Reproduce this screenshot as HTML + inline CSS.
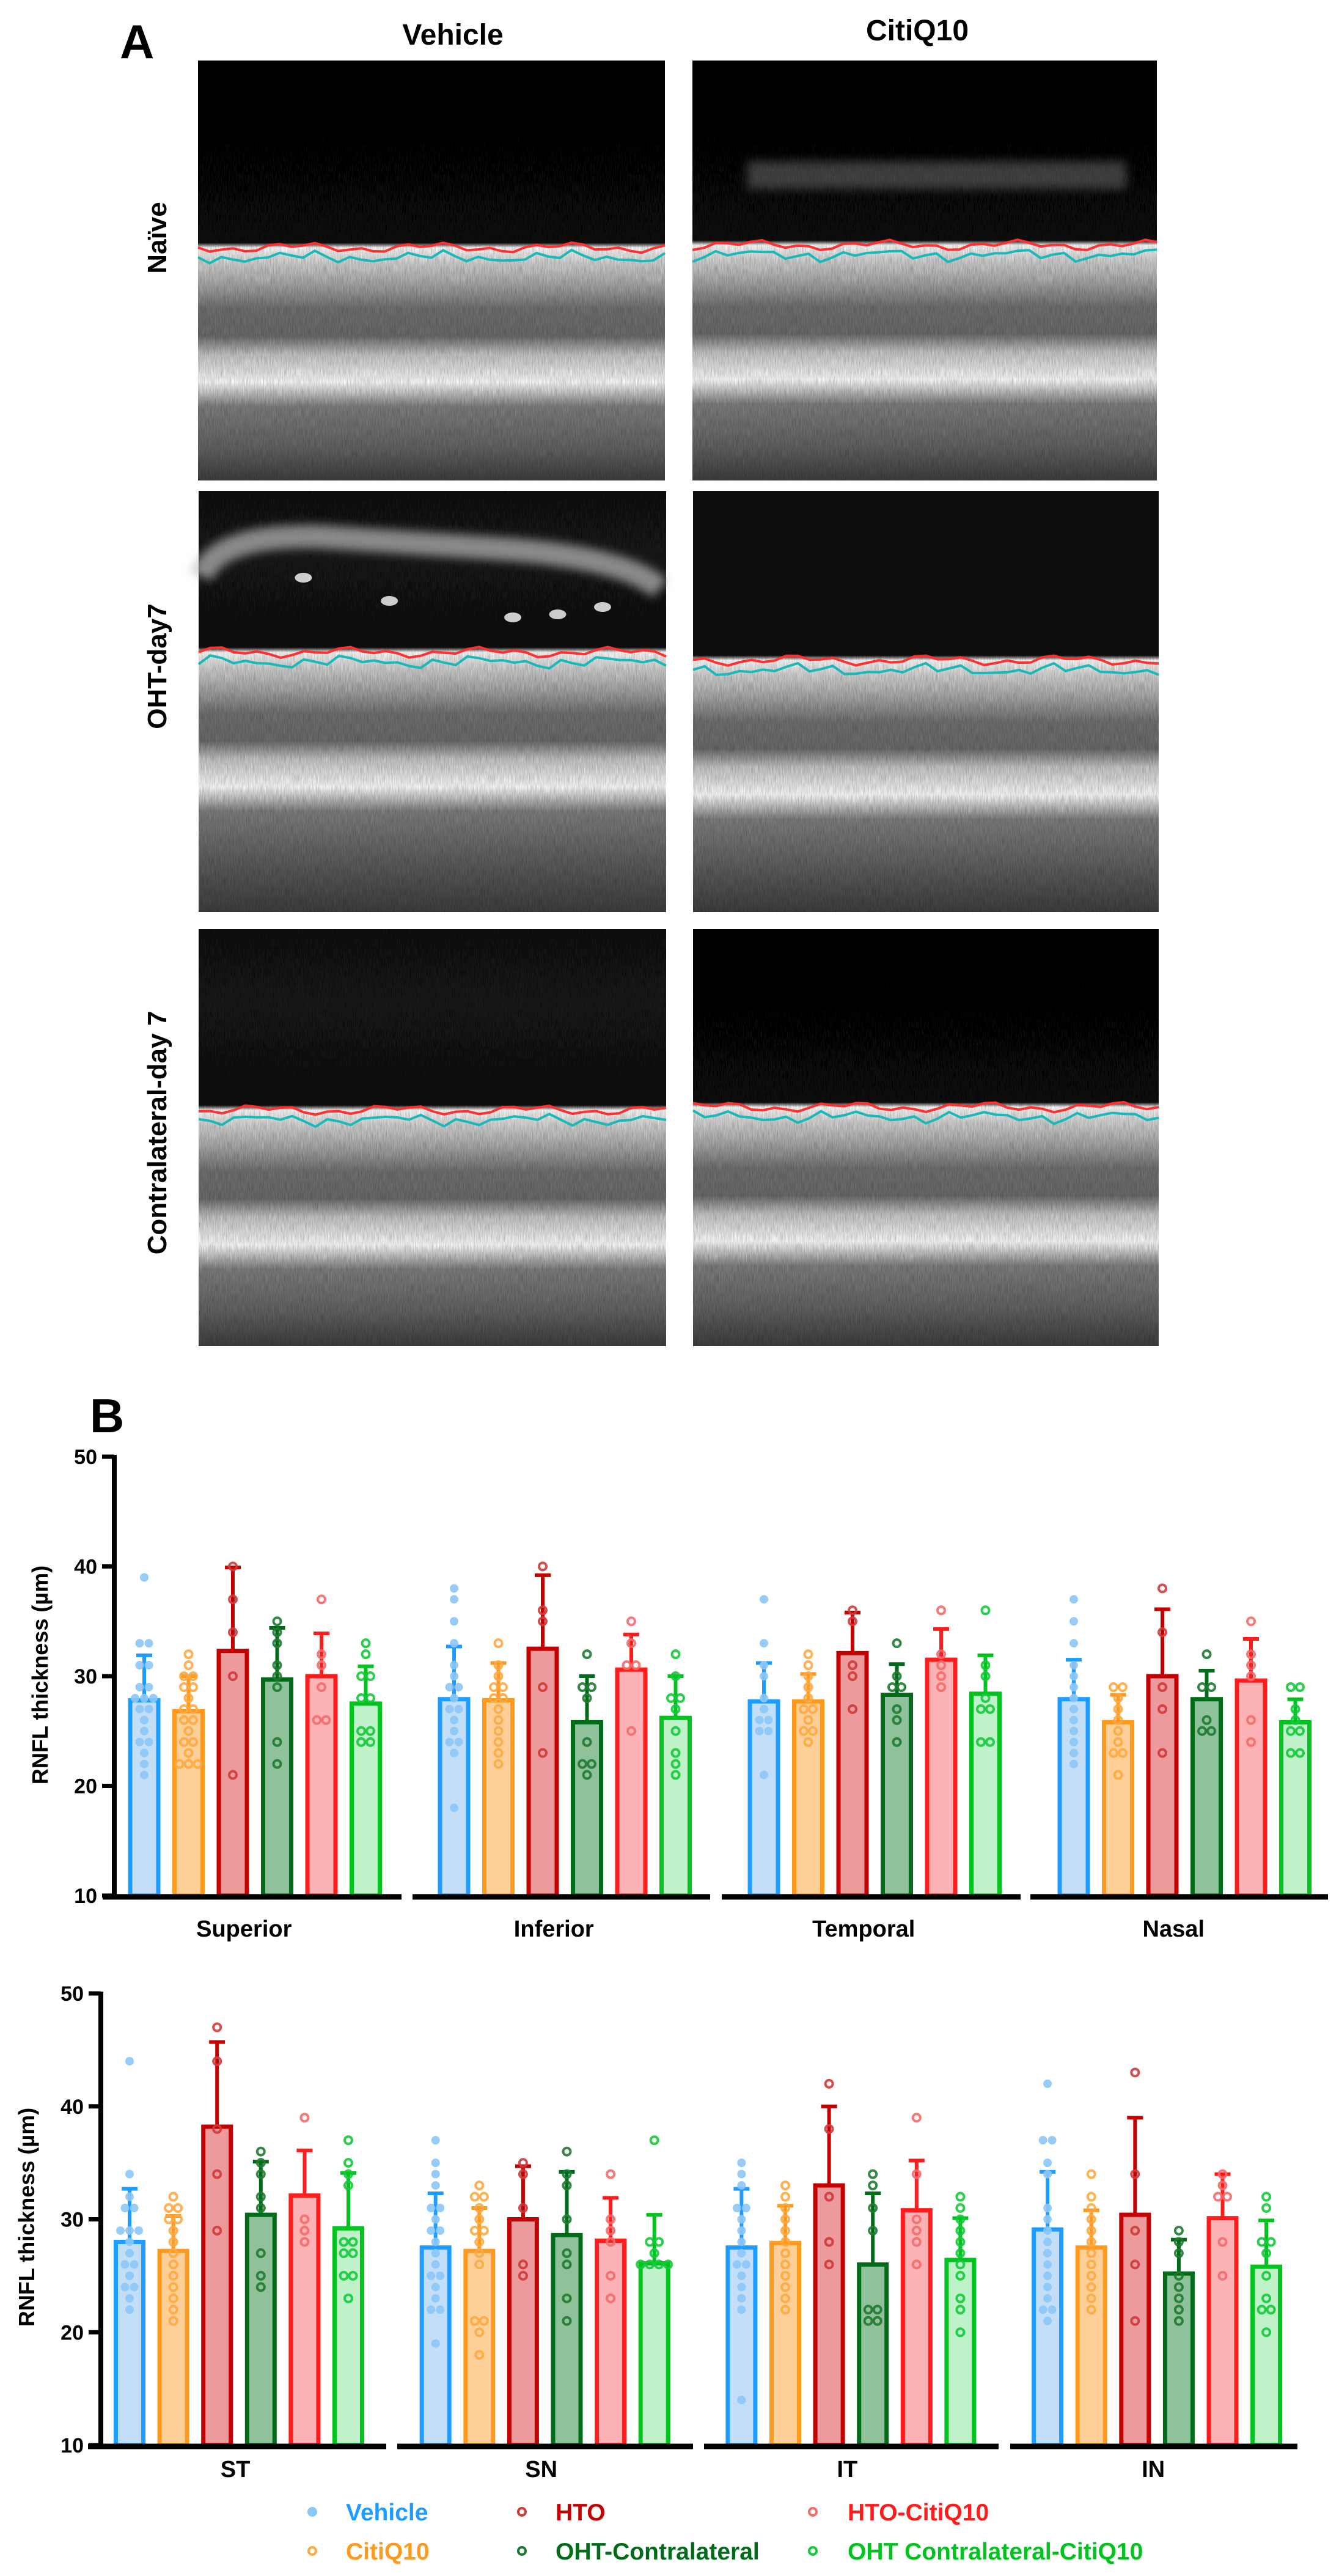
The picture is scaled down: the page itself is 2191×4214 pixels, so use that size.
<!DOCTYPE html>
<html><head><meta charset="utf-8">
<style>
html,body{margin:0;padding:0;background:#fff;}
svg{display:block;}
text{font-family:"Liberation Sans",Arial,sans-serif;font-weight:bold;}
</style></head>
<body>
<svg id="fig" width="2191" height="4214" viewBox="0 0 2191 4214" xmlns="http://www.w3.org/2000/svg">
<defs>
<filter id="noise" x="0" y="0" width="100%" height="100%">
<feTurbulence type="fractalNoise" baseFrequency="0.8 0.06" numOctaves="2" seed="3" result="t"/>
<feColorMatrix in="t" type="matrix" values="1 0 0 0 0  1 0 0 0 0  1 0 0 0 0  0 0 0 0 1" result="n"/>
<feComposite in="SourceGraphic" in2="n" operator="arithmetic" k1="0.9" k2="0.55" k3="0" k4="0"/>
</filter>
<filter id="blur" x="-10%" y="-50%" width="120%" height="200%"><feGaussianBlur stdDeviation="8"/></filter>
</defs>
<g id="panelA">
<text x="196" y="95" font-size="78">A</text>
<text x="741" y="73" font-size="48" text-anchor="middle">Vehicle</text>
<text x="1501" y="66" font-size="48" text-anchor="middle">CitiQ10</text>
<text transform="translate(272,389) rotate(-90)" font-size="44" text-anchor="middle">Naïve</text>
<text transform="translate(272,1090) rotate(-90)" font-size="44" text-anchor="middle">OHT-day7</text>
<text transform="translate(272,1853) rotate(-90)" font-size="44" text-anchor="middle">Contralateral-day 7</text>
</g>
<g id="chart1"></g>
<g id="chart2"></g>
<g id="legend"></g>
<text x="147" y="2343" font-size="78">B</text>
</svg>
<script>
const NS="http://www.w3.org/2000/svg";
const groups=["Vehicle","CitiQ10","HTO","OHT-Contralateral","HTO-CitiQ10","OHT Contralateral-CitiQ10"];
const chart1Categories=["Superior","Inferior","Temporal","Nasal"];
const chart2Categories=["ST","SN","IT","IN"];
const yTicks=[10,20,30,40,50];
const chart1Means=[[27.8,26.8,32.3,29.7,30.0,27.5],[27.9,27.8,32.5,25.8,30.6,26.2],[27.7,27.7,32.1,28.3,31.5,28.4],[27.9,25.8,30.0,27.9,29.6,25.8]];
const chart1SDTop=[[31.9,30.0,39.9,34.4,33.9,30.9],[32.7,31.2,39.2,30.0,33.8,30.0],[31.2,30.2,35.8,31.1,34.3,31.9],[31.5,28.3,36.1,30.5,33.4,27.9]];
const chart1Points=[
[[39,33,33,31,31,29,29,28,28,28,27,27,26,25,24,24,23,22,21],[32,31,30,30,29,29,28,27,27,26,26,25,24,24,23,22,22,22],[40,37,34,30,21],[35,34,33,31,30,29,24,22],[37,32,31,29,26,26],[33,32,30,30,28,28,25,25,24,24]],
[[38,37,35,33,31,30,29,29,28,27,27,26,25,24,24,23,18],[33,31,30,29,29,28,28,27,26,25,24,23,22],[40,36,35,29,23],[32,29,29,28,24,22,22,21],[35,33,31,31,25],[32,30,28,28,27,25,23,22,21]],
[[37,33,31,30,28,27,26,26,25,25,21],[32,31,30,29,28,27,27,26,25,25,24],[36,35,31,30,27],[33,30,29,29,27,26,24],[36,32,31,30,29],[36,31,30,28,27,27,24,24]],
[[37,35,33,31,30,29,28,27,26,25,24,23,22],[29,29,28,27,26,25,24,23,23,21],[38,34,29,27,23],[32,29,29,26,25,25],[35,32,31,30,26,24],[29,29,27,26,25,25,23,23]]];
const chart2Means=[[28.0,27.2,38.2,30.4,32.1,29.2],[27.5,27.2,30.0,28.6,28.1,26.1],[27.5,27.9,33.0,26.0,30.8,26.4],[29.1,27.5,30.4,25.2,30.1,25.8]];
const chart2SDTop=[[32.7,30.3,45.7,35.1,36.1,34.1],[32.3,31.0,34.7,34.2,31.9,30.4],[32.7,31.2,40.0,32.3,35.2,30.1],[34.2,30.8,39.0,28.2,34.0,29.9]];
const chart2Points=[
[[44,34,32,31,31,29,29,29,28,27,26,26,25,24,24,23,22],[32,31,31,30,30,29,28,27,26,25,24,23,22,21],[47,44,38,34,29],[36,35,34,32,31,27,25,24],[39,30,29,28],[37,35,34,33,28,28,27,27,25,25,23]],
[[37,35,34,33,31,31,30,29,29,28,27,26,25,25,24,23,22,22,19],[33,32,32,31,30,29,29,28,27,26,21,21,20,18],[35,34,31,26,25],[36,34,33,30,27,26,23,21],[34,30,29,28,25,23],[37,28,28,27,26,26,26,26]],
[[35,34,33,31,31,30,29,28,27,26,26,25,24,23,22,14],[33,32,31,30,29,28,27,26,25,24,23,22],[42,38,32,28,26],[34,33,31,29,22,22,21,21],[39,34,30,29,28,26],[32,31,30,29,28,27,26,25,23,22,20]],
[[42,37,37,35,34,31,30,29,28,27,26,25,24,23,22,22,21],[34,32,31,30,29,28,27,26,25,24,23,22],[43,34,29,26,21],[29,28,27,25,24,23,22,21],[34,33,32,32,28,25],[32,31,28,28,27,25,23,22,22,20]]];

const strokeC=["#1f9cff","#ff9a1f","#c40000","#006b18","#ff1c1c","#00c41e"];
const fillC=["#c3dff8","#ffcf98","#ec9a9c","#8fc29b","#fdb2b5","#bff2c9"];
const ptC=["#8cc6f7","#ffa940","#d03a3a","#1e7a30","#f46a6a","#14c93a"];

function el(parent,tag,attrs){const e=document.createElementNS(NS,tag);for(const k in attrs)e.setAttribute(k,attrs[k]);parent.appendChild(e);return e;}

function drawChart(gid,cfg,cats,means,sds,pts){
  const g=document.getElementById(gid);
  const y=v=>cfg.y10-(v-10)*(cfg.y10-cfg.y50)/40;
  const barX=(c,i)=>cfg.x0+c*cfg.gStep+i*cfg.bStep;
  cats.forEach((cat,c)=>{
    groups.forEach((gr,i)=>{
      const cx=barX(c,i),m=means[c][i],top=y(m);
      const b=el(g,'rect',{x:cx-cfg.bw/2,y:top,width:cfg.bw,height:cfg.y10-top,fill:fillC[i],stroke:strokeC[i],'stroke-width':7});
      
      
      const eb=el(g,'path',{d:`M${cx},${top}V${y(sds[c][i])}M${cx-13},${y(sds[c][i])}H${cx+13}`,stroke:strokeC[i],'stroke-width':6,fill:'none'});
      
      
      const counts={};
      pts[c][i].forEach(v=>{counts[v]=(counts[v]||0)+1;});
      const seen={};
      pts[c][i].forEach(v=>{
        const n=counts[v],k=(seen[v]=(seen[v]||0)+1)-1;
        const off=(k-(n-1)/2)*15;
        const p=el(g,'circle',{cx:cx+off,cy:y(v),r:i==0?7:6,fill:i==0?ptC[0]:'none',stroke:ptC[i],'stroke-width':i==0?0:4,opacity:0.9});
        
        
      });
    });
    const lab=el(g,'text',{x:barX(c,0)+2.5*cfg.bStep+cfg.labOff,y:cfg.labY,'font-size':38,'text-anchor':'middle'});
    lab.textContent=cat;
    
    
    const s=cfg.segs[c];
    const ax=el(g,'line',{x1:s[0],x2:s[1],y1:cfg.y10+2,y2:cfg.y10+2,stroke:'#000','stroke-width':9});
    
    
  });
  const ya=el(g,'line',{x1:cfg.ax,x2:cfg.ax,y1:cfg.y50-3,y2:cfg.y10+6,stroke:'#000','stroke-width':8});
  
  
  yTicks.forEach(t=>{
    const tk=el(g,'line',{x1:cfg.ax-20,x2:cfg.ax,y1:y(t),y2:y(t),stroke:'#000','stroke-width':7});
    
    
    const tl=el(g,'text',{x:cfg.ax-28,y:y(t)+12,'font-size':34,'text-anchor':'end'});
    tl.textContent=t;
    
    
  });
  const yt=el(g,'text',{transform:`translate(${cfg.titleX},${cfg.titleY}) rotate(-90)`,'font-size':36,'text-anchor':'middle'});
  yt.textContent='RNFL thickness (µm)';
  
  
}
drawChart('chart1',{y50:2383,y10:3101,x0:236,bStep:72.5,gStep:507,bw:46,ax:187,labY:3168,labOff:-18,titleX:78,titleY:2740,
  segs:[[168,657],[675,1162],[1181,1670],[1686,2173]]},chart1Categories,chart1Means,chart1SDTop,chart1Points);
drawChart('chart2',{y50:3261,y10:4000,x0:212,bStep:71.6,gStep:500.7,bw:45,ax:165,labY:4052,labOff:-6,titleX:56,titleY:3627,
  segs:[[144,632],[650,1134],[1152,1634],[1653,2123]]},chart2Categories,chart2Means,chart2SDTop,chart2Points);

(function(){
  const g=document.getElementById('legend');
  const pos=[[511,566,4109],[511,566,4173],[854,909,4109],[854,909,4173],[1330,1387,4109],[1330,1387,4173]];
  groups.forEach((gr,i)=>{
    const p=pos[i];
    const m=el(g,'circle',{cx:p[0],cy:p[2],r:i==0?8:6,fill:i==0?ptC[0]:'none',stroke:ptC[i],'stroke-width':i==0?0:4});
    
    
    const t=el(g,'text',{x:p[1],y:p[2]+14,'font-size':39,fill:strokeC[i]});
    t.textContent=gr;
    
    
  });
})();

(function(){
  const g=document.getElementById('panelA');
  const defs=document.querySelector('defs');
  const panels=[
   [324,99,764,687,306,0.0,'naive-vehicle'],[1133,99,760,687,302,0.0,'naive-citiq10'],
   [325,803,765,689,264,0.1,'oht-vehicle'],[1134,803,762,689,277,0.05,'oht-citiq10'],
   [325,1520,765,682,296,0.1,'contra-vehicle'],[1134,1520,762,682,291,0.0,'contra-citiq10']];
  panels.forEach((p,idx)=>{
    const [x,y,w,h,r,haze,name]=p;
    const gid='grad'+idx;
    const lg=el(defs,'linearGradient',{id:gid,x1:0,y1:0,x2:0,y2:1});
    const stops=[[0,0.02+haze*0.4],[r*0.4,0.02+haze*0.6],[r-8,0.03+haze*0.2],[r,0.9],[r+25,0.75],[r+60,0.6],[r+100,0.4],[r+145,0.38],[r+175,0.7],[r+220,0.9],[r+260,0.45],[r+330,0.35],[h,0.22]];
    stops.forEach(s=>{const v=Math.round(255*Math.min(1,s[1]));el(lg,'stop',{offset:Math.max(0,Math.min(1,s[0]/h)),'stop-color':`rgb(${v},${v},${v})`});});
    const pr=el(g,'rect',{x:x,y:y,width:w,height:h,fill:`url(#${gid})`,filter:'url(#noise)'});
    
    
    if(idx===2){
      const arc=el(g,'path',{d:`M${x+5},${y+140} Q${x+30},${y+70} ${x+200},${y+75} L${x+500},${y+95} Q${x+700},${y+110} ${x+755},${y+160}`,stroke:'#bbb','stroke-width':38,fill:'none',opacity:0.7,filter:'url(#blur)'});
      
      
      [[140,152],[255,190],[420,217],[480,212],[540,200],[700,180]].forEach(d=>{
        const c=el(g,'ellipse',{cx:x+d[0]*765/625,cy:y+d[1]-10,rx:14,ry:8,fill:'#eee',opacity:0.85});
        
        
      });
    }
    if(idx===1){
      const st=el(g,'rect',{x:x+90,y:y+165,width:620,height:45,fill:'#777',opacity:0.5,filter:'url(#blur)'});
      
      
    }
    let red='',cy='';
    for(let i=0;i<=40;i++){
      const xx=x+w*i/40;
      const wob=Math.sin(i*1.7+idx)*4+Math.sin(i*0.55+idx*2)*5;
      red+=(i?'L':'M')+xx.toFixed(1)+','+(y+r+wob).toFixed(1);
      cy+=(i?'L':'M')+xx.toFixed(1)+','+(y+r+16+wob+Math.sin(i*2.3+idx)*4).toFixed(1);
    }
    const rl=el(g,'path',{d:red,stroke:'#ff3030',fill:'none','stroke-width':4});
    
    
    const cl=el(g,'path',{d:cy,stroke:'#1ab8b8',fill:'none','stroke-width':4});
    
    
  });
})();
</script>
</body></html>
